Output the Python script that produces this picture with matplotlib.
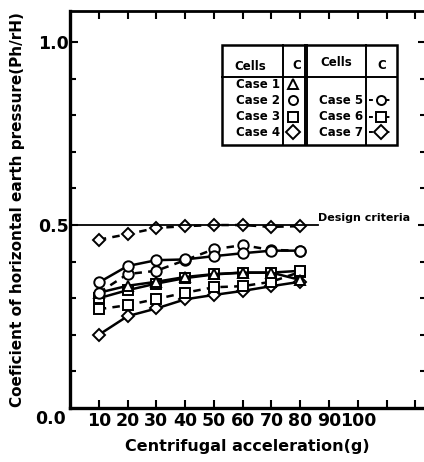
import matplotlib
matplotlib.use("Agg")
import matplotlib.pyplot as plt
from matplotlib.lines import Line2D

plt.rcParams['font.family'] = ['DejaVu Sans']
plt.rcParams['font.weight'] = 'bold'

g = [10, 20, 30, 40, 50, 60, 70, 80]
case1 = [0.315, 0.334, 0.345, 0.358, 0.366, 0.370, 0.370, 0.350]
case2 = [0.343, 0.388, 0.404, 0.406, 0.415, 0.423, 0.430, 0.430]
case3 = [0.300, 0.322, 0.340, 0.355, 0.365, 0.370, 0.370, 0.375]
case4 = [0.200, 0.251, 0.272, 0.297, 0.309, 0.320, 0.333, 0.345]
case5 = [0.315, 0.366, 0.375, 0.404, 0.434, 0.445, 0.432, 0.430]
case6 = [0.270, 0.281, 0.298, 0.315, 0.330, 0.333, 0.345, 0.372]
case7 = [0.460, 0.475, 0.492, 0.497, 0.500, 0.500, 0.495, 0.497]
design = 0.5
xticks = [10, 20, 30, 40, 50, 60, 70, 80, 90, 100, 110, 120]
xlabels = ['10', '20', '30', '40', '50', '60', '70', '80', '90', '100', '', '']

W, H = 424, 462
fig = plt.figure(figsize=(W / 100, H / 100), dpi=100)
ax = fig.add_axes([70 / W, (H - 408) / H, (426 - 70) / W, (408 - 11) / H])
ax.set_xlim(0, 123.7)
ax.set_ylim(0, 1.085)

ms = 7.5
kw = dict(color='black', lw=1.8, mfc='white', mec='black', mew=1.4, ms=ms)
ax.plot(g, case4, marker='D', ls='-', **{**kw, 'ms': 6.5})
ax.plot(g, case6, marker='s', ls=(0, (3, 2.5)), **kw)
ax.plot(g, case3, marker='s', ls='-', **kw)
ax.plot(g, case1, marker='^', ls='-', **kw)
ax.plot(g, case5, marker='o', ls=(0, (3, 2.5)), **kw)
ax.plot(g, case2, marker='o', ls='-', **kw)
ax.plot(g, case7, marker='D', ls=(0, (3, 2.5)), **{**kw, 'ms': 6.5})

ax.plot([0, 86], [design, design], color='black', lw=1.3)
ax.text(86.3, design + 0.006, 'Design criteria', fontsize=8, fontweight='bold',
        ha='left', va='bottom')

for s in ['left', 'bottom']:
    ax.spines[s].set_linewidth(2.4)
for s in ['top', 'right']:
    ax.spines[s].set_linewidth(2.0)

tfs = 12.5
ax.set_xticks(xticks)
ax.set_xticklabels(xlabels, fontsize=tfs, fontweight='bold')
ax.set_yticks([0.5, 1.0])
ax.set_yticklabels(['0.5', '1.0'], fontsize=tfs, fontweight='bold')
ax.set_yticks([0.1, 0.2, 0.3, 0.4, 0.6, 0.7, 0.8, 0.9], minor=True)
ax.tick_params(axis='both', which='major', direction='in', length=6, width=1.5,
               top=True, right=True, pad=3)
ax.tick_params(axis='y', which='minor', direction='in', length=4, width=1.5,
               right=True)
ax.tick_params(axis='y', which='major', pad=1)

fig.text(50 / W, 1 - 419 / H, '0.0', fontsize=tfs, fontweight='bold',
         ha='center', va='center')

ax.set_xlabel('Centrifugal acceleration(g)', fontsize=11.5, fontweight='bold')
ax.set_ylabel('Coeficient of horizontal earth pressure(Ph/rH)', fontsize=11,
              fontweight='bold')
ax.xaxis.set_label_coords((247 - 70) / 356, -(447 - 408) / 397)
ax.yaxis.set_label_coords(-(70 - 18) / 356, (408 - 210) / 397)
ax.xaxis.label.set_va('center')
ax.yaxis.label.set_va('center')

# legend table
def P(x, y):
    return (x / W, 1 - y / H)

def seg(x0, y0, x1, y1, lw=1.4):
    fig.add_artist(Line2D([x0 / W, x1 / W], [1 - y0 / H, 1 - y1 / H],
                          color='black', lw=lw, transform=fig.transFigure))

bx0, bx1, by0, by1 = 222, 397, 45, 145
fig.patches.append(plt.Rectangle(P(bx0, by1), (bx1 - bx0) / W, (by1 - by0) / H,
                                 transform=fig.transFigure, fill=True,
                                 fc='white', ec='black', lw=1.8))
seg(bx0, 77, bx1, 77, 1.4)
seg(283, by0, 283, by1, 1.4)
seg(305, by0, 305, by1, 1.4)
seg(307, by0, 307, by1, 1.4)
seg(366, by0, 366, by1, 1.4)

fs = 8.5
fig.text(*P(250, 67), 'Cells', fontsize=fs, fontweight='bold', ha='center', va='center')
fig.text(*P(297, 65), 'C', fontsize=fs, fontweight='bold', ha='center', va='center')
fig.text(*P(336, 62), 'Cells', fontsize=fs, fontweight='bold', ha='center', va='center')
fig.text(*P(382, 66), 'C', fontsize=fs, fontweight='bold', ha='center', va='center')

rows_y = [84, 100, 116.5, 132]
left_names = ['Case 1', 'Case 2', 'Case 3', 'Case 4']
left_marks = ['^', 'o', 's', 'D']
for y, nm, mk in zip(rows_y, left_names, left_marks):
    fig.text(*P(280, y), nm, fontsize=fs, fontweight='bold', ha='right', va='center')
    fig.add_artist(Line2D([293 / W], [1 - y / H], marker=mk, ms=6.5 if mk != 'D' else 7,
                          mfc='white', mec='black', mew=1.4, ls='none',
                          transform=fig.transFigure))
right_names = ['Case 5', 'Case 6', 'Case 7']
right_marks = ['o', 's', 'D']
for y, nm, mk in zip(rows_y[1:], right_names, right_marks):
    fig.text(*P(363, y), nm, fontsize=fs, fontweight='bold', ha='right', va='center')
    fig.add_artist(Line2D([369 / W, 393 / W], [1 - y / H, 1 - y / H], color='black',
                          lw=1.4, ls=(0, (2, 6.5)), transform=fig.transFigure))
    fig.add_artist(Line2D([381 / W], [1 - y / H], marker=mk, ms=6.5 if mk != 'D' else 7,
                          mfc='white', mec='black', mew=1.4, ls='none',
                          transform=fig.transFigure))

fig.savefig('out.png', dpi=100)
